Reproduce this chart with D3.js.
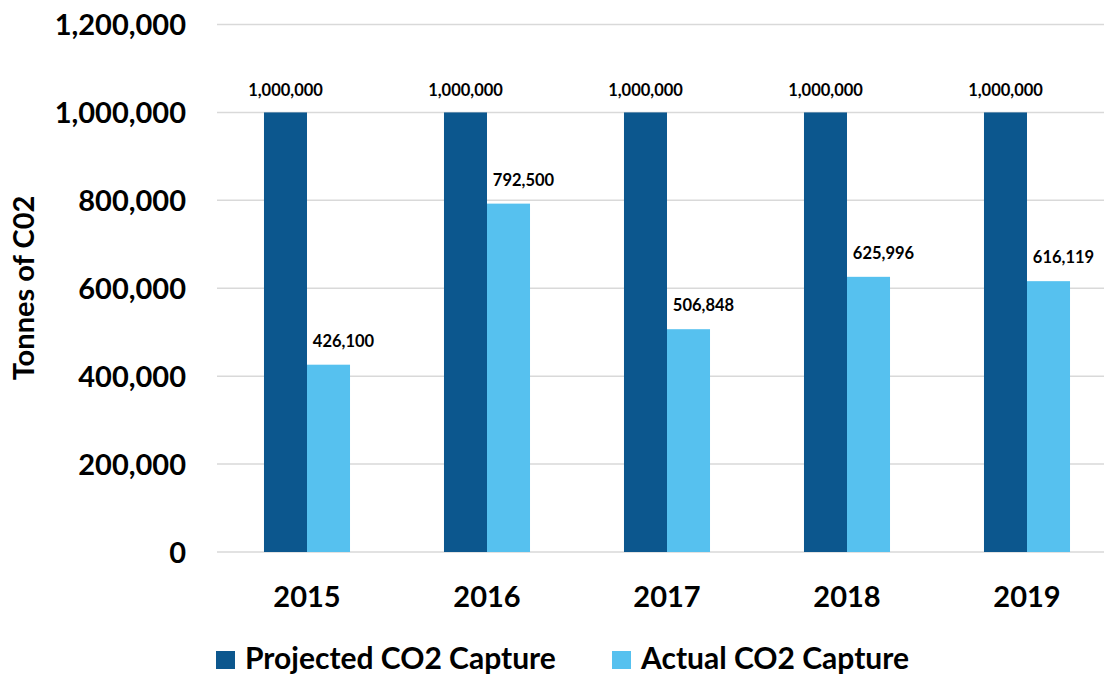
<!DOCTYPE html>
<html>
<head>
<meta charset="utf-8">
<script src="https://cdn.jsdelivr.net/npm/d3@7"></script>
<style>
  body { margin: 0; background: #fff; }
  text { font-family: Lato, "Open Sans", sans-serif; font-weight: bold; fill: #000; }
</style>
</head>
<body>
<div id="chart"></div>
<script>
// chart data
var years = ["2015", "2016", "2017", "2018", "2019"];
var seriesNames = ["Projected CO2 Capture", "Actual CO2 Capture"];
var projected = [1000000, 1000000, 1000000, 1000000, 1000000];
var actual = [426100, 792500, 506848, 625996, 616119];
var yTicks = [0, 200000, 400000, 600000, 800000, 1000000, 1200000];

var colors = ["#0c578e", "#56c1ef"];

var svgWidth = 1104;
var svgHeight = 675;

var svg = d3.select("#chart").append("svg")
  .attr("width", svgWidth)
  .attr("height", svgHeight);

// plot area (runs a little past the right edge, like the source image)
var plot = {left: 217, right: 1117, top: 24.5, bottom: 552};

var x0 = d3.scaleBand().domain(years).range([plot.left, plot.right])
  .paddingInner(0.522).paddingOuter(0.261);
var x1 = d3.scaleBand().domain(seriesNames).range([0, x0.bandwidth()]);
var y = d3.scaleLinear().domain([0, 1200000]).range([plot.bottom, plot.top]);

var fmt = d3.format(",");

// gridlines
svg.append("g").selectAll("line")
  .data(yTicks)
  .enter().append("line")
  .attr("x1", plot.left).attr("x2", plot.right)
  .attr("y1", d => y(d)).attr("y2", d => y(d))
  .attr("stroke", "#d9d9d9")
  .attr("stroke-width", 1.5);

// y axis labels
var yAxis = d3.axisLeft(y).tickValues(yTicks).tickFormat(fmt).tickSize(0).tickPadding(0);
var yg = svg.append("g").attr("transform", "translate(186,0)").call(yAxis);
yg.select(".domain").remove();
yg.selectAll("text").style("font-size", "29px").attr("dy", "0.36em");

// x axis labels
var xAxis = d3.axisBottom(x0).tickSize(0).tickPadding(0);
var xg = svg.append("g").attr("transform", "translate(0,607)").call(xAxis);
xg.select(".domain").remove();
xg.selectAll("text").style("font-size", "29px").attr("dy", 0);

// axis title
svg.append("text")
  .attr("transform", "translate(34,288) rotate(-90)")
  .attr("text-anchor", "middle")
  .style("font-size", "29px")
  .text("Tonnes of C02");

// bars
var rows = years.map((yr, i) => ({year: yr, values: [projected[i], actual[i]]}));

var groups = svg.append("g").selectAll("g")
  .data(rows)
  .enter().append("g")
  .attr("transform", d => `translate(${x0(d.year)},0)`);

groups.selectAll("rect")
  .data(d => d.values.map((v, j) => ({name: seriesNames[j], value: v, j: j})))
  .enter().append("rect")
  .attr("x", d => x1(d.name))
  .attr("y", d => y(d.value))
  .attr("width", x1.bandwidth())
  .attr("height", d => y(0) - y(d.value))
  .attr("fill", d => colors[d.j]);

// data labels
groups.selectAll("text.lbl")
  .data(d => d.values.map((v, j) => ({name: seriesNames[j], value: v, j: j})))
  .enter().append("text")
  .attr("class", "lbl")
  .attr("x", d => x1(d.name) + x1.bandwidth() / 2 + (d.j === 1 ? 15 : 0))
  .attr("y", d => y(d.value) - (d.j === 1 ? 18 : 16))
  .attr("text-anchor", "middle")
  .style("font-size", "16.5px")
  .text(d => fmt(d.value));

// legend
var legendX = [216, 612];
var legend = svg.append("g").selectAll("g")
  .data(seriesNames)
  .enter().append("g")
  .attr("transform", (d, i) => `translate(${legendX[i]},651)`);
legend.append("rect")
  .attr("width", 19).attr("height", 18)
  .attr("fill", (d, i) => colors[i]);
legend.append("text")
  .attr("x", 29).attr("y", 18)
  .style("font-size", "30px")
  .text(d => d);
</script>
</body>
</html>
